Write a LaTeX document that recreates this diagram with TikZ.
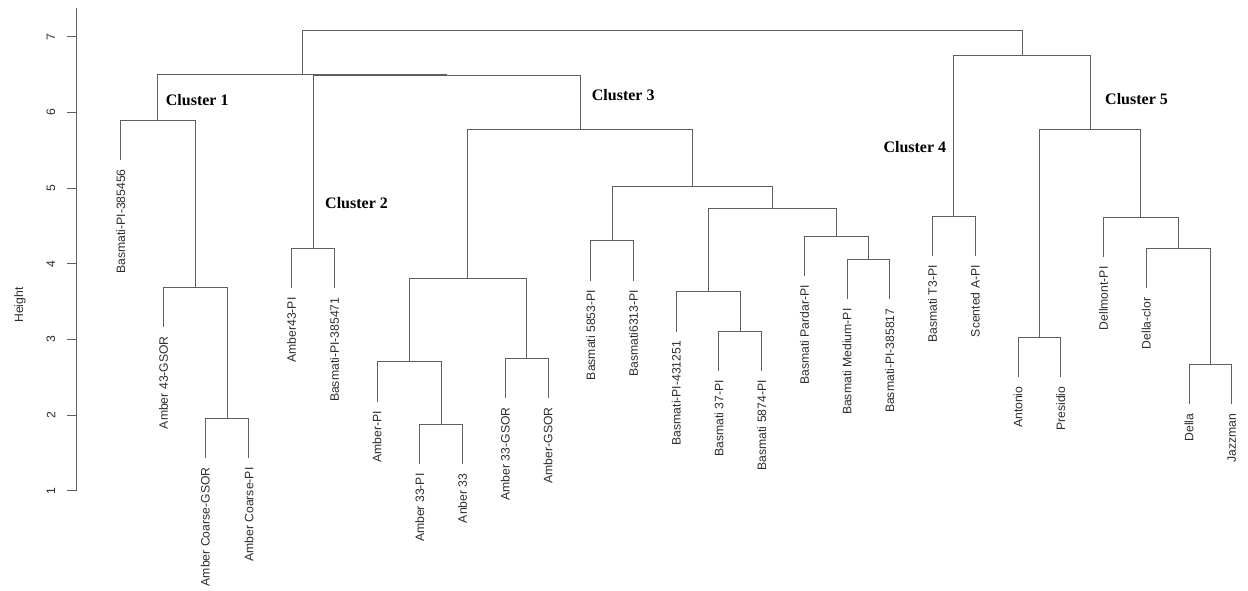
\documentclass[tikz,border=0pt]{standalone}
\usepackage{fontspec}
\setmainfont{Liberation Serif}
\newfontfamily\arialf{Liberation Sans}
\definecolor{branchgray}{RGB}{95,95,95}
\definecolor{labgray}{RGB}{45,45,45}
\tikzset{
  branch/.style={draw=branchgray, line width=1pt},
  leaflab/.style={font=\arialf\fontsize{12.2}{14}\selectfont, text=labgray, rotate=90, anchor=east, inner sep=0pt},
  ticklab/.style={font=\arialf\fontsize{12.2}{14}\selectfont, text=labgray, rotate=90, inner sep=0pt},
  clusterlab/.style={font=\bfseries\fontsize{16}{18}\selectfont, text=black, anchor=west, inner sep=0pt}
}
\newcommand\leafnode[4]{\coordinate (#1) at (#2,#3); \node[leaflab] (#1t) at (#2,#3+9) {#4};}
\begin{document}
\begin{tikzpicture}[x=1pt,y=-1pt]
\useasboundingbox (0,0) rectangle (1248,590);
% axis
\coordinate (axb) at (76,490.7);
\coordinate (axt) at (76,8);
\draw[branch] (axb) -- (axt);
\foreach \h [evaluate=\h as \yy using {490.7-(\h-1)*75.65}] in {1,...,7}{
  \coordinate (tk\h) at (76,\yy);
  \coordinate (tl\h) at (67.3,\yy);
  \draw[branch] (tk\h) -- (tl\h);
  \node[ticklab] (tn\h) at (51,\yy) {\h};
}
\node[ticklab] (ylab) at (20,305) {Height};
% leaves
\leafnode{L0}{120.7}{160}{Basmati-PI-385456}
\leafnode{L1}{163.4}{327}{Amber 43-GSOR}
\leafnode{L2}{205.2}{458.3}{Amber Coarse-GSOR}
\leafnode{L3}{248.9}{458.3}{Amber Coarse-PI}
\leafnode{L4}{291.6}{288.3}{Amber43-PI}
\leafnode{L5}{334.4}{288.3}{Basmati-PI-385471}
\leafnode{L6}{377.1}{401.7}{Amber-PI}
\leafnode{L7}{419.8}{464.3}{Amber 33-PI}
\leafnode{L8}{462.5}{464.3}{Anber 33}
\leafnode{L9}{505.3}{398.3}{Amber 33-GSOR}
\leafnode{L10}{548}{398.3}{Amber-GSOR}
\leafnode{L11}{590.7}{280.7}{Basmati 5853-PI}
\leafnode{L12}{633.5}{280.7}{Basmati6313-PI}
\leafnode{L13}{676.2}{331.7}{Basmati-PI-431251}
\leafnode{L14}{718.9}{371}{Basmati 37-PI}
\leafnode{L15}{761.7}{371}{Basmati 5874-PI}
\leafnode{L16}{804.4}{276}{Basmati Pardar-PI}
\leafnode{L17}{847.1}{299.3}{Basmati Medium-PI}
\leafnode{L18}{889.8}{299.3}{Basmati-PI-385817}
\leafnode{L19}{932.6}{256}{Basmati T3-PI}
\leafnode{L20}{975.3}{256}{Scented A-PI}
\leafnode{L21}{1018}{377.3}{Antonio}
\leafnode{L22}{1060.8}{377.3}{Presidio}
\leafnode{L23}{1103.5}{257.3}{Dellmont-PI}
\leafnode{L24}{1146.2}{288.3}{Della-clor}
\leafnode{L25}{1189}{404.3}{Della}
\leafnode{L26}{1231.7}{404.3}{Jazzman}
% merge points
\coordinate (c1c) at (227.05,418.3);
\coordinate (c1b) at (195.2,287);
\coordinate (c1) at (157.95,120);
\coordinate (c2) at (313,248.3);
\coordinate (c3a1b) at (441.15,424.3);
\coordinate (c3a1) at (409.1,361.7);
\coordinate (c3a2) at (526.65,358.3);
\coordinate (c3a) at (467.9,278.3);
\coordinate (c3b1) at (612.1,240.7);
\coordinate (c3b2a1) at (740.3,331);
\coordinate (c3b2a) at (708.25,291.7);
\coordinate (c3b2b1) at (868.45,259.3);
\coordinate (c3b2b) at (836.4,236);
\coordinate (c3b2) at (772.3,208.3);
\coordinate (c3b) at (692.2,186);
\coordinate (c3) at (580.05,129.3);
\coordinate (B) at (446.5,75);
\coordinate (A) at (302.2,74);
\coordinate (c4) at (953.95,216);
\coordinate (c5a) at (1039.4,337.3);
\coordinate (c5b3) at (1210.35,364.3);
\coordinate (c5b2) at (1178.3,248.3);
\coordinate (c5b) at (1140.9,217.3);
\coordinate (c5) at (1090.15,129);
\coordinate (R) at (1022.05,55);
\coordinate (root) at (662.1,30);
% branches
\draw[branch] (root) -| (A);
\draw[branch] (root) -| (R);
\draw[branch] (A) -| (c1);
\draw[branch] (A) -| (B);
\draw[branch] (B) -| (c2);
\draw[branch] (B) -| (c3);
\draw[branch] (c1) -| (L0);
\draw[branch] (c1) -| (c1b);
\draw[branch] (c1b) -| (L1);
\draw[branch] (c1b) -| (c1c);
\draw[branch] (c1c) -| (L2);
\draw[branch] (c1c) -| (L3);
\draw[branch] (c2) -| (L4);
\draw[branch] (c2) -| (L5);
\draw[branch] (c3) -| (c3a);
\draw[branch] (c3) -| (c3b);
\draw[branch] (c3a) -| (c3a1);
\draw[branch] (c3a) -| (c3a2);
\draw[branch] (c3a1) -| (L6);
\draw[branch] (c3a1) -| (c3a1b);
\draw[branch] (c3a1b) -| (L7);
\draw[branch] (c3a1b) -| (L8);
\draw[branch] (c3a2) -| (L9);
\draw[branch] (c3a2) -| (L10);
\draw[branch] (c3b) -| (c3b1);
\draw[branch] (c3b) -| (c3b2);
\draw[branch] (c3b1) -| (L11);
\draw[branch] (c3b1) -| (L12);
\draw[branch] (c3b2) -| (c3b2a);
\draw[branch] (c3b2) -| (c3b2b);
\draw[branch] (c3b2a) -| (L13);
\draw[branch] (c3b2a) -| (c3b2a1);
\draw[branch] (c3b2a1) -| (L14);
\draw[branch] (c3b2a1) -| (L15);
\draw[branch] (c3b2b) -| (L16);
\draw[branch] (c3b2b) -| (c3b2b1);
\draw[branch] (c3b2b1) -| (L17);
\draw[branch] (c3b2b1) -| (L18);
\draw[branch] (R) -| (c4);
\draw[branch] (R) -| (c5);
\draw[branch] (c4) -| (L19);
\draw[branch] (c4) -| (L20);
\draw[branch] (c5) -| (c5a);
\draw[branch] (c5) -| (c5b);
\draw[branch] (c5a) -| (L21);
\draw[branch] (c5a) -| (L22);
\draw[branch] (c5b) -| (L23);
\draw[branch] (c5b) -| (c5b2);
\draw[branch] (c5b2) -| (L24);
\draw[branch] (c5b2) -| (c5b3);
\draw[branch] (c5b3) -| (L25);
\draw[branch] (c5b3) -| (L26);
% cluster labels
\node[clusterlab] (cl1) at (165.7,100) {Cluster 1};
\node[clusterlab] (cl2) at (325,203.3) {Cluster 2};
\node[clusterlab] (cl3) at (591.7,95) {Cluster 3};
\node[clusterlab] (cl4) at (883.3,147.3) {Cluster 4};
\node[clusterlab] (cl5) at (1105,99.3) {Cluster 5};
\end{tikzpicture}
\end{document}
